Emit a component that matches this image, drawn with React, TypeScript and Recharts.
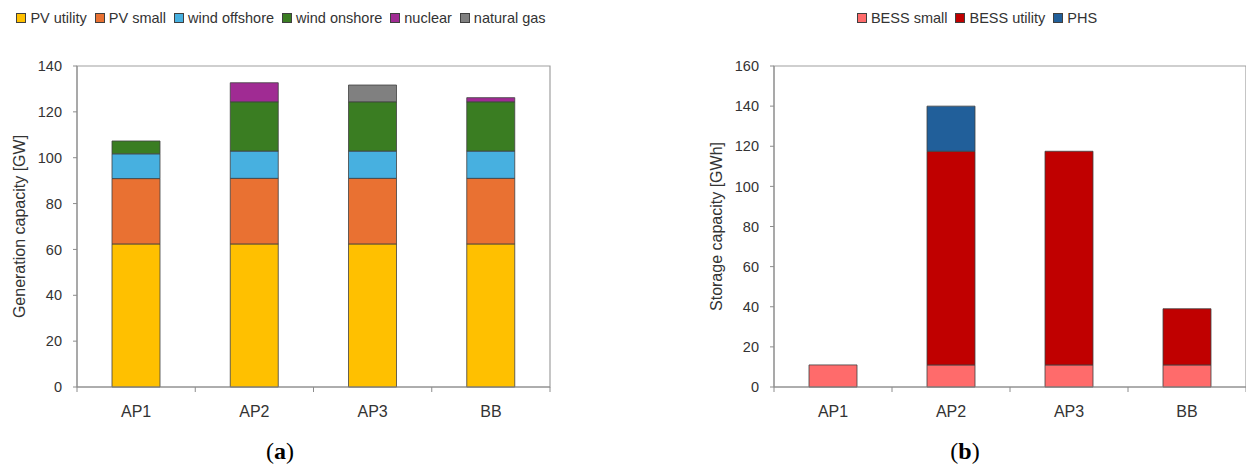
import { BarChart, Bar, XAxis, YAxis, ReferenceArea } from "recharts";

const categories = ["AP1", "AP2", "AP3", "BB"];

// generation capacity [GW]
const pvUtility = [62.4, 62.4, 62.4, 62.4];
const pvSmall = [28.5, 28.6, 28.6, 28.6];
const windOffshore = [10.8, 11.9, 11.9, 11.9];
const windOnshore = [5.6, 21.5, 21.5, 21.5];
const nuclear = [0, 8.3, 0, 1.8];
const naturalGas = [0, 0, 7.3, 0];
const genTicks = [0, 20, 40, 60, 80, 100, 120, 140];

// storage capacity [GWh]
const bessSmall = [11, 11, 11, 11];
const bessUtility = [0, 106.5, 106.5, 28];
const phs = [0, 22.5, 0, 0];
const storageTicks = [0, 20, 40, 60, 80, 100, 120, 140, 160];

const genSeries = [
  { key: "pvUtility", name: "PV utility", color: "#FFC000", values: pvUtility },
  { key: "pvSmall", name: "PV small", color: "#E97132", values: pvSmall },
  { key: "windOffshore", name: "wind offshore", color: "#47B0E0", values: windOffshore },
  { key: "windOnshore", name: "wind onshore", color: "#3A7D22", values: windOnshore },
  { key: "nuclear", name: "nuclear", color: "#A02B93", values: nuclear },
  { key: "naturalGas", name: "natural gas", color: "#808080", values: naturalGas },
];

const storageSeries = [
  { key: "bessSmall", name: "BESS small", color: "#FF6B6B", values: bessSmall },
  { key: "bessUtility", name: "BESS utility", color: "#C00000", values: bessUtility },
  { key: "phs", name: "PHS", color: "#215F9A", values: phs },
];

const buildRows = (series: typeof genSeries) =>
  categories.map((name, i) => {
    const row: Record<string, any> = { name };
    series.forEach((s) => (row[s.key] = s.values[i]));
    return row;
  });

const FONT = "'Liberation Sans', Arial, sans-serif";
const TEXT = "#333";
const AXIS = "#8c8c8c";
const EDGE = "#404040";
const TICK_SIZE = 5;
const TICK_MARGIN = 14;

// category label plus tick marks on the category boundaries
const CategoryTick = (props: any) => {
  const { x, y, payload, index, width } = props;
  const half = payload?.offset ?? width / (2 * categories.length);
  const axisY = y - TICK_SIZE - TICK_MARGIN;
  const last = index === categories.length - 1;
  return (
    <g>
      <line x1={x - half} y1={axisY} x2={x - half} y2={axisY + TICK_SIZE} stroke={AXIS} />
      {last && <line x1={x + half} y1={axisY} x2={x + half} y2={axisY + TICK_SIZE} stroke={AXIS} />}
      <text x={x} y={y} dy="0.71em" textAnchor="middle" fill={TEXT} fontSize={16} fontFamily={FONT}>
        {payload.value}
      </text>
    </g>
  );
};

const AxisTitle = ({ viewBox, value, dx }: any) => {
  const cx = (viewBox?.x ?? 0) + dx;
  const cy = (viewBox?.y ?? 66) + (viewBox?.height ?? 321) / 2;
  return (
    <text
      x={cx}
      y={cy}
      transform={`rotate(-90 ${cx} ${cy})`}
      textAnchor="middle"
      dominantBaseline="central"
      fill={TEXT}
      fontSize={16}
      fontFamily={FONT}
    >
      {value}
    </text>
  );
};

const LegendRow = ({ series, style }: { series: typeof genSeries; style: React.CSSProperties }) => (
  <div
    style={{
      position: "absolute",
      display: "flex",
      justifyContent: "center",
      alignItems: "center",
      gap: 8,
      fontFamily: FONT,
      fontSize: 14.5,
      color: TEXT,
      whiteSpace: "nowrap",
      ...style,
    }}
  >
    {series.map((s) => (
      <div key={s.key} style={{ display: "flex", alignItems: "center", gap: 4 }}>
        <span
          style={{
            width: 8,
            height: 8,
            background: s.color,
            border: `1px solid ${EDGE}`,
            display: "inline-block",
          }}
        />
        <span>{s.name}</span>
      </div>
    ))}
  </div>
);

const Caption = ({ letter, left }: { letter: string; left: number }) => (
  <div
    style={{
      position: "absolute",
      top: 438,
      left,
      width: 40,
      textAlign: "center",
      fontFamily: "'Liberation Serif', 'Times New Roman', serif",
      fontSize: 24,
      color: "#000",
    }}
  >
    (<b>{letter}</b>)
  </div>
);

function StackedChart({
  series,
  ticks,
  title,
  width,
  axisWidth,
  rightMargin,
  titleDx,
}: {
  series: typeof genSeries;
  ticks: number[];
  title: string;
  width: number;
  axisWidth: number;
  rightMargin: number;
  titleDx: number;
}) {
  const max = ticks[ticks.length - 1];
  return (
    <BarChart
      width={width}
      height={440}
      data={buildRows(series)}
      margin={{ top: 66, right: rightMargin, bottom: 13, left: 0 }}
      barSize={48}
    >
      <ReferenceArea y1={0} y2={max} fill="none" stroke="#a0a0a0" strokeWidth={1.2} />
      <XAxis
        dataKey="name"
        height={40}
        axisLine={{ stroke: AXIS }}
        tickLine={false}
        tickSize={TICK_SIZE}
        tickMargin={TICK_MARGIN}
        tick={<CategoryTick />}
        interval={0}
      />
      <YAxis
        width={axisWidth}
        domain={[0, max]}
        ticks={ticks}
        axisLine={{ stroke: AXIS }}
        tickLine={{ stroke: AXIS }}
        tickSize={4}
        tickMargin={11}
        tick={{ fill: TEXT, fontSize: 14.5, fontFamily: FONT }}
        label={{ content: (p: any) => <AxisTitle {...p} value={title} dx={titleDx} /> }}
      />
      {series.map((s) => (
        <Bar
          key={s.key}
          dataKey={s.key}
          name={s.name}
          stackId="a"
          fill={s.color}
          stroke={EDGE}
          strokeWidth={0.8}
          isAnimationActive={false}
        />
      ))}
    </BarChart>
  );
}

export default function App() {
  return (
    <div
      style={{
        position: "absolute",
        top: 0,
        left: 0,
        width: 1246,
        height: 470,
        background: "#fff",
        overflow: "hidden",
      }}
    >
      <LegendRow series={genSeries} style={{ top: 8, left: 0, width: 562, height: 20 }} />
      <LegendRow series={storageSeries} style={{ top: 8, left: 827, width: 300, height: 20 }} />

      <div style={{ position: "absolute", top: 0, left: 0 }}>
        <StackedChart
          series={genSeries}
          ticks={genTicks}
          title="Generation capacity [GW]"
          width={560}
          axisWidth={77}
          rightMargin={10}
          titleDx={19}
        />
      </div>
      <div style={{ position: "absolute", top: 0, left: 626 }}>
        <StackedChart
          series={storageSeries}
          ticks={storageTicks}
          title="Storage capacity [GWh]"
          width={620}
          axisWidth={148}
          rightMargin={0}
          titleDx={90}
        />
      </div>

      <Caption letter="a" left={260} />
      <Caption letter="b" left={945} />
    </div>
  );
}
